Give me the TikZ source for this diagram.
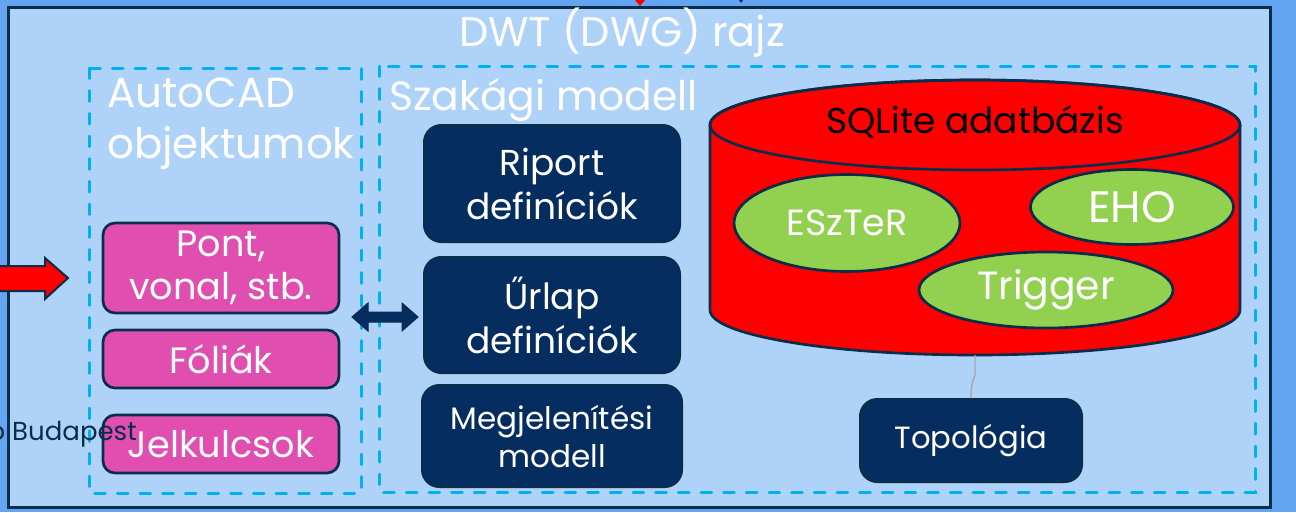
\documentclass[tikz,border=0pt]{standalone}
\usepackage{fontspec}
\setmainfont{Poppins}
\usetikzlibrary{shapes.geometric}
\definecolor{outerbg}{RGB}{99,165,240}
\definecolor{innerbg}{RGB}{175,210,249}
\definecolor{border}{RGB}{10,45,74}
\definecolor{dashc}{RGB}{0,176,240}
\definecolor{pinkc}{RGB}{224,79,176}
\definecolor{navyc}{RGB}{6,45,95}
\definecolor{greenc}{RGB}{146,208,80}
\newcommand{\myfs}[2]{\fontsize{#1}{#2}\selectfont}
\tikzset{
  dashbox/.style={draw=dashc, line width=2.25pt, dash pattern=on 8pt off 9pt, line cap=round},
  pinkbox/.style={draw=border, fill=pinkc, line width=2pt, rounded corners=9pt, text=white, align=center, inner sep=0pt, minimum width=177pt},
  navybox/.style={draw=border, fill=navyc, line width=1.5pt, rounded corners=13pt, text=white, align=center, inner sep=0pt},
  greenell/.style={ellipse, draw=border, fill=greenc, line width=2pt, text=white, inner sep=0pt},
  whitetext/.style={text=white, inner sep=0pt},
}
\begin{document}
\begin{tikzpicture}[x=0.75pt,y=-0.75pt]
\useasboundingbox (0,0) rectangle (1296,512);
\fill[outerbg] (0,0) rectangle (1296,512);
% small arrow tips at top
\fill[red] (635,0) -- (645,0) -- (640,6) -- cycle;
\fill[border] (739,0) -- (743,0) -- (741,3) -- cycle;
% main frame
\draw[line width=2.25pt, draw=border, fill=innerbg] (8,7) rectangle (1270,507);
\node[whitetext, font=\myfs{31}{36}] (title) at (622,33) {DWT (DWG) rajz};
% dashed groups
\draw[dashbox] (89,68) rectangle (361,493);
\draw[dashbox] (379,66) rectangle (1255,492);
\node[whitetext, anchor=north west, align=left, font=\myfs{31.5}{38}] (acad) at (107,78) {AutoCAD\\objektumok};
\node[whitetext, anchor=west, font=\myfs{30.6}{36}] (szak) at (389,100) {Szakági modell};
% pink boxes
\node[pinkbox, minimum height=67.5pt, font=\myfs{27.5}{32}] (pont) at (221,268) {Pont,\\vonal, stb.};
\node[pinkbox, minimum height=43.5pt, font=\myfs{27.5}{32}] (foliak) at (221,359) {Fóliák};
\node[pinkbox, minimum height=43.5pt, font=\myfs{27.5}{32}] (jel) at (221,444) {Jelkulcsok};
% Budapest fragment (drawn over the box)
\node[text=border, anchor=base east, inner sep=0pt, font=\myfs{19.5}{22}] (bud) at (137,440) {o Budapest};
% navy boxes
\node[navybox, minimum width=192pt, minimum height=87.75pt, font=\myfs{27}{33}] (riport) at (552,183.5) {Riport\\definíciók};
\node[navybox, minimum width=192pt, minimum height=87pt, font=\myfs{27}{33}] (urlap) at (552,315) {Űrlap\\definíciók};
\node[navybox, minimum width=195pt, minimum height=76.5pt, font=\myfs{23.3}{28.5}] (megj) at (552,436) {Megjelenítési\\modell};
\node[navybox, minimum width=166.5pt, minimum height=62.25pt, font=\myfs{23}{26}] (topo) at (971,440.5) {Topológia};
% red input arrow
\draw[fill=red, draw=border, line width=1.5pt, line join=miter]
  (-10,266) -- (45,266) -- (45,258) -- (68,278) -- (45,299) -- (45,291) -- (-10,291) -- cycle;
% double arrow
\coordinate (dl) at (352,317);
\coordinate (dr) at (418,317);
\draw[fill=navyc, draw=border, line width=0.75pt, line join=miter] (dl) -- ++(16,-14) -- ++(0,9) -- ++(34,0) -- ++(0,-9) -- (dr) -- ++(-16,14) -- ++(0,-9) -- ++(-34,0) -- ++(0,9) -- cycle;
% cylinder
\draw[fill=red, draw=border, line width=2pt]
  (710,125) -- (710,310) arc[start angle=180, end angle=360, x radius=198.75pt, y radius=33.75pt]
  -- (1240,125) arc[start angle=0, end angle=180, x radius=198.75pt, y radius=33.75pt] -- cycle;
\draw[draw=border, line width=2pt] (975,125) ellipse[x radius=198.75pt, y radius=33.75pt];
\node[inner sep=0pt, text=black, font=\myfs{27}{32}] (sql) at (975,122) {SQLite adatbázis};
\coordinate (cylbot) at (975,355);
% ellipses
\node[greenell, minimum width=169.5pt, minimum height=72.75pt, font=\myfs{27.3}{30}] (eszter) at (847,223) {ESzTeR};
\node[greenell, minimum width=152.25pt, minimum height=56.25pt, font=\myfs{33}{36}] (eho) at (1132,207) {EHO};
\node[greenell, minimum width=190.5pt, minimum height=57pt, font=\myfs{29.5}{32}] (trig) at (1046,290) {Trigger};
% connector
\draw[gray!70, line width=1pt] (cylbot) -- (975,375) .. controls (972,383) .. (971,395) -- (topo.north);
\end{tikzpicture}
\end{document}
